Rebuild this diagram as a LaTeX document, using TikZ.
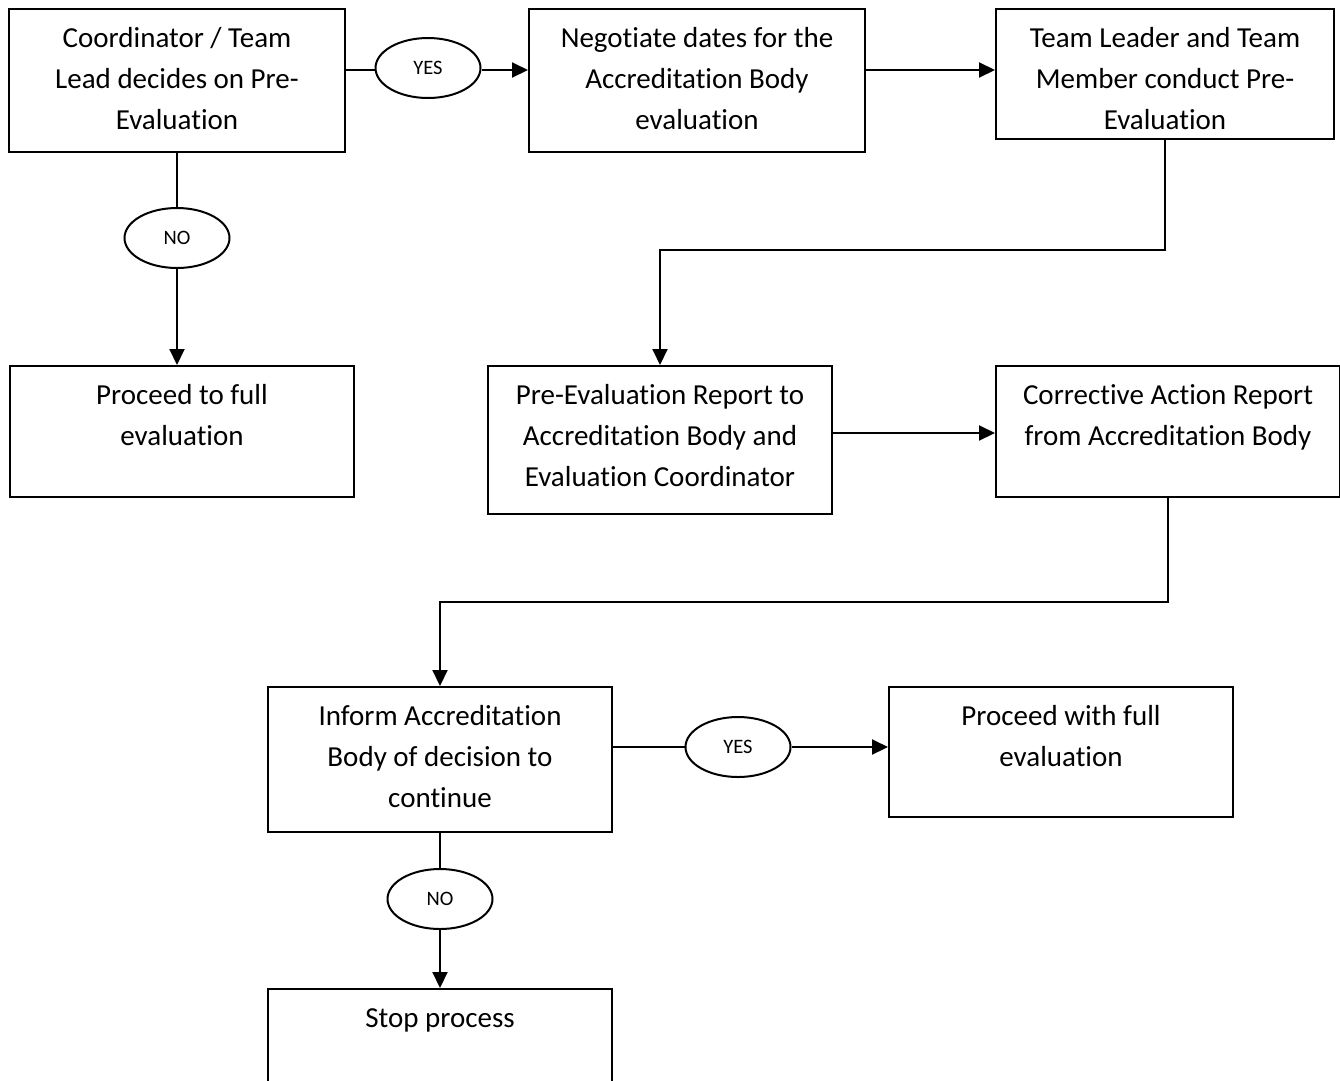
\documentclass[tikz,border=0pt]{standalone}
\usepackage{fontspec}
\setmainfont[Ligatures=NoCommon]{Carlito}
\usetikzlibrary{arrows.meta,shapes.geometric,calc}
\tikzset{
  box/.style={draw, line width=2pt, rectangle, inner sep=0pt, anchor=north west},
  txt/.style={align=center, inner sep=0pt, anchor=north, font=\fontsize{29}{41}\selectfont, execute at begin node=\strut},
  choice/.style={draw, line width=2pt, ellipse, inner sep=0pt, minimum width=105pt, minimum height=60pt, font=\fontsize{20.5}{24}\selectfont},
  conn/.style={line width=2pt},
  arr/.style={line width=2pt, -{Triangle[length=16pt,width=15pt]}}
}
\begin{document}
\begin{tikzpicture}[x=1pt,y=-1pt]
\clip (0,0) rectangle (1340,1080);
\fill[white] (0,0) rectangle (1340,1080);
% boxes
\node[box, minimum width=336pt, minimum height=143pt] (a) at (8,8) {};
\node[box, minimum width=336pt, minimum height=143pt] (b) at (528,8) {};
\node[box, minimum width=338pt, minimum height=130pt] (c) at (995,8) {};
\node[box, minimum width=344pt, minimum height=131pt] (d) at (9,365) {};
\node[box, minimum width=344pt, minimum height=148pt] (e) at (487,365) {};
\node[box, minimum width=344pt, minimum height=131pt] (f) at (995,365) {};
\node[box, minimum width=344pt, minimum height=145pt] (g) at (267,686) {};
\node[box, minimum width=344pt, minimum height=130pt] (h) at (888,686) {};
\node[box, minimum width=344pt, minimum height=115pt] (i) at (267,988) {};
% texts
\node[txt] (ta) at ($(a.north)+(0,19)$) {Coordinator / Team\\Lead decides on Pre-\\Evaluation};
\node[txt] (tb) at ($(b.north)+(0,19)$) {Negotiate dates for the\\Accreditation Body\\evaluation};
\node[txt] (tc) at ($(c.north)+(0,19)$) {Team Leader and Team\\Member conduct Pre-\\Evaluation};
\node[txt] (td) at ($(d.north)+(0,19)$) {Proceed to full\\evaluation};
\node[txt] (te) at ($(e.north)+(0,19)$) {Pre-Evaluation Report to\\Accreditation Body and\\Evaluation Coordinator};
\node[txt] (tf) at ($(f.north)+(0,19)$) {Corrective Action Report\\from Accreditation Body};
\node[txt] (tg) at ($(g.north)+(0,19)$) {Inform Accreditation\\Body of decision to\\continue};
\node[txt] (th) at ($(h.north)+(0,19)$) {Proceed with full\\evaluation};
\node[txt] (ti) at ($(i.north)+(0,11)$) {Stop process};
% decision labels
\node[choice] (yes1) at (428,68) {YES};
\node[choice] (no1) at ($(a.south)+(0,85)$) {NO};
\node[choice] (yes2) at (738,747) {YES};
\node[choice] (no2) at ($(g.south)+(0,66)$) {NO};
% connectors
\draw[conn] (a.east |- 0,70) -- (yes1.west |- 0,70);
\draw[arr] (yes1.east |- 0,70) -- (b.west |- 0,70);
\draw[arr] (b.east |- 0,70) -- (c.west |- 0,70);
\draw[arr] (c.south) -- ++(0,110) -| (e.north);
\draw[conn] (a.south) -- (no1.north);
\draw[arr] (no1.south) -- (no1.south |- d.north);
\draw[arr] (e.east |- 0,433) -- (f.west |- 0,433);
\draw[arr] (f.south) -- ++(0,104) -| (g.north);
\draw[conn] (g.east |- yes2) -- (yes2.west);
\draw[arr] (yes2.east) -- (h.west |- yes2);
\draw[conn] (g.south) -- (no2.north);
\draw[arr] (no2.south) -- (i.north);
\end{tikzpicture}
\end{document}
